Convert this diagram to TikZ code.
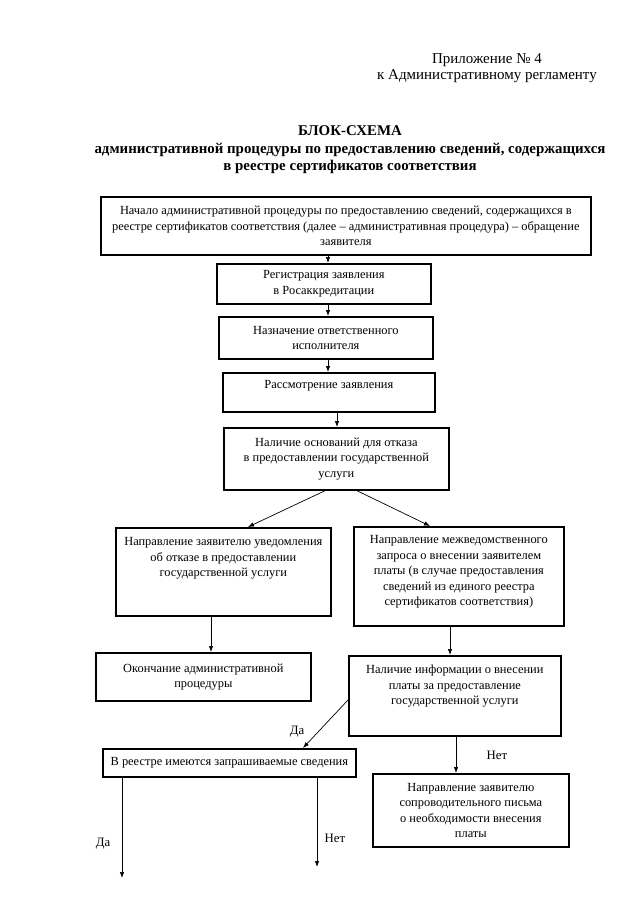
\documentclass[tikz,border=0pt]{standalone}
\usepackage{fontspec}
\setmainfont{Liberation Serif}
\usetikzlibrary{arrows.meta}
\tikzset{
  blk/.style={draw, line width=1.7pt, inner sep=0pt, anchor=north west,
    font=\fontsize{12.4pt}{15.5pt}\selectfont},
  arr/.style={line width=0.7pt, -{Latex[length=6pt,width=4.5pt]}},
  lbl/.style={font=\fontsize{12.8pt}{15pt}\selectfont, inner sep=0pt},
}
\newcommand{\blkc}[6]{\node[blk] (#1) at (#2,#3) {\parbox[c][#5pt][c]{#4pt}{\centering #6\par}};}
\newcommand{\blkt}[7]{\node[blk] (#1) at (#2,#3) {\parbox[c][#5pt][t]{#4pt}{\vspace*{#6pt}\centering\strut #7\par}};}
\begin{document}
\begin{tikzpicture}[x=1pt,y=-1pt]
\useasboundingbox[fill=white] (0,0) rectangle (640,905);
% header
\node[align=center, font=\fontsize{15pt}{16.5pt}\selectfont] (hdr) at (487,68)
  {Приложение № 4\\к Административному регламенту};
\node[align=center, font=\fontsize{14.9pt}{17.5pt}\selectfont\bfseries] (ttl) at (350,150)
  {БЛОК-СХЕМА\\административной процедуры по предоставлению сведений, содержащихся\\в реестре сертификатов соответствия};
% boxes
\blkc{b1}{100}{196}{490}{58}{Начало административной процедуры по предоставлению сведений, содержащихся в\\реестре сертификатов соответствия (далее – административная процедура) – обращение\\заявителя}
\blkc{b2}{216}{263}{214}{40}{Регистрация заявления\\в Росаккредитации}
\blkc{b3}{218}{316}{214}{42}{Назначение ответственного\\исполнителя}
\blkt{b4}{222}{372}{212}{39}{5}{Рассмотрение заявления}
\blkc{b5}{223}{427}{225}{62}{Наличие оснований для отказа\\в предоставлении государственной\\услуги}
\blkt{b6}{115}{527}{215}{88}{7}{Направление заявителю уведомления\\об отказе в предоставлении\\государственной услуги}
\blkt{b7}{353}{526}{210}{99}{6}{Направление межведомственного\\запроса о внесении заявителем\\платы (в случае предоставления\\сведений из единого реестра\\сертификатов соответствия)}
\blkc{b8}{95}{652}{215}{48}{Окончание административной\\процедуры}
\blkt{b9}{348}{655}{212}{80}{7}{Наличие информации о внесении\\платы за предоставление\\государственной услуги}
\blkc{b10}{102}{748}{253}{28}{В реестре имеются запрашиваемые сведения}
\blkc{b11}{372}{773}{196}{73}{Направление заявителю\\сопроводительного письма\\о необходимости внесения\\платы}
% free ends
\coordinate (e1) at (122,878);
\coordinate (e2) at (317,867);
% connectors
\draw[arr] (b1.south -| 328,0) -- (b2.north -| 328,0);
\draw[arr] (b2.south -| 328,0) -- (b3.north -| 328,0);
\draw[arr] (b3.south -| 328,0) -- (b4.north -| 328,0);
\draw[arr] (b4.south -| 337,0) -- (b5.north -| 337,0);
\draw[arr] (b5.south -| 325,0) -- (b6.north -| 248,0);
\draw[arr] (b5.south -| 357,0) -- (b7.north -| 430,0);
\draw[arr] (b6.south -| 211,0) -- (b8.north -| 211,0);
\draw[arr] (b7.south -| 450,0) -- (b9.north -| 450,0);
\draw[arr] (b9.west |- 0,700) -- (b10.north -| 303,0);
\draw[arr] (b9.south -| 456,0) -- (b11.north -| 456,0);
\draw[arr] (b10.south -| e1) -- (e1);
\draw[arr] (b10.south -| e2) -- (e2);
% labels
\node[lbl] (l1) at (297,732) {Да};
\node[lbl] (l2) at (497,755) {Нет};
\node[lbl] (l3) at (103,844) {Да};
\node[lbl] (l4) at (335,838) {Нет};
\end{tikzpicture}
\end{document}
